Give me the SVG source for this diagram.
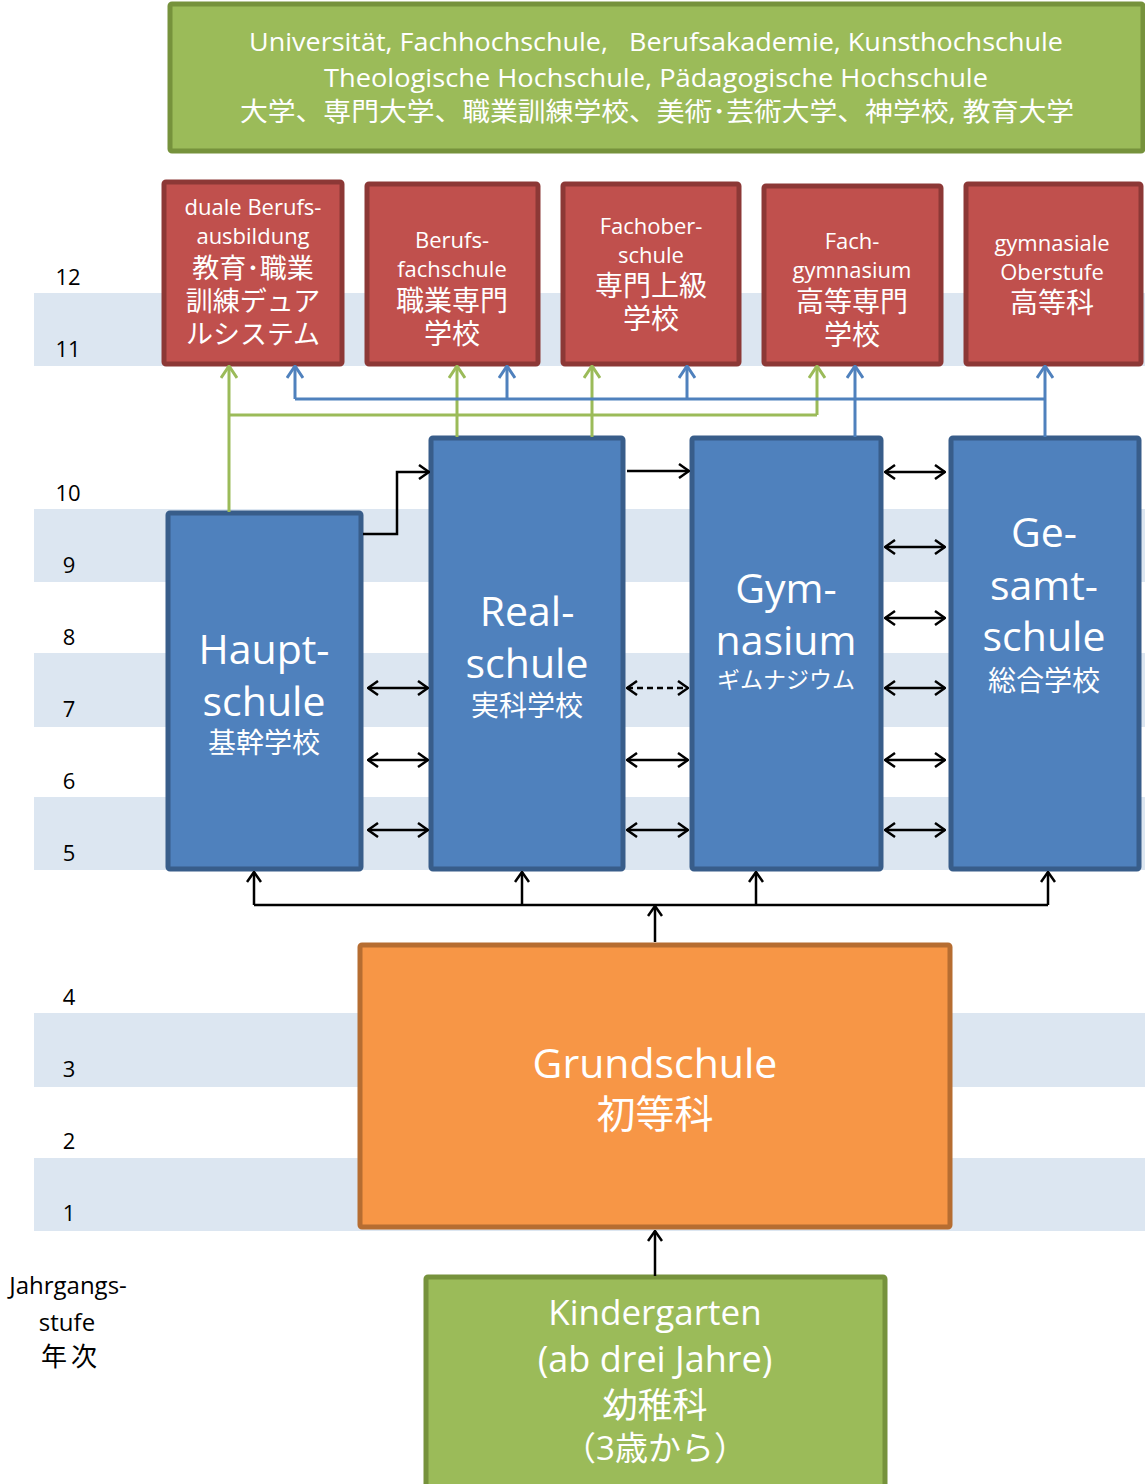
<svg xmlns="http://www.w3.org/2000/svg" width="1145" height="1484" viewBox="0 0 1145 1484">
<style>
.band{fill:#dce6f1}
.grn{fill:#9bbb59;stroke:#76923c;stroke-width:5}
.red{fill:#c0504d;stroke:#8c3836;stroke-width:5}
.blu{fill:#4f81bd;stroke:#385d8a;stroke-width:5}
.org{fill:#f79646;stroke:#b66d31;stroke-width:5}
text{font-family:"Open Sans","Noto Sans CJK JP",sans-serif;text-anchor:middle}
.w{fill:#fff}
.k{fill:#000}
.cl{fill:none;stroke:#000;stroke-width:2.5}
.gl{fill:none;stroke:#9bbb59;stroke-width:3}
.bl{fill:none;stroke:#4f81bd;stroke-width:3}
</style>
<defs>
<marker id="ak" viewBox="0 0 12 16" refX="11" refY="8" markerWidth="12" markerHeight="16" markerUnits="userSpaceOnUse" orient="auto-start-reverse"><path d="M1,1 L11,8 L1,15" fill="none" stroke="#000" stroke-width="2.5"/></marker>
<marker id="ag" viewBox="0 0 14 18" refX="13" refY="9" markerWidth="14" markerHeight="18" markerUnits="userSpaceOnUse" orient="auto"><path d="M1,1 L13,9 L1,17" fill="none" stroke="#9bbb59" stroke-width="3"/></marker>
<marker id="ab" viewBox="0 0 14 18" refX="13" refY="9" markerWidth="14" markerHeight="18" markerUnits="userSpaceOnUse" orient="auto"><path d="M1,1 L13,9 L1,17" fill="none" stroke="#4f81bd" stroke-width="3"/></marker>
</defs>
<g id="bands">
<rect class="band" x="34" y="293" width="1111" height="73"/>
<rect class="band" x="34" y="509" width="1111" height="73"/>
<rect class="band" x="34" y="653" width="1111" height="74"/>
<rect class="band" x="34" y="797" width="1111" height="73"/>
<rect class="band" x="34" y="1013" width="1111" height="74"/>
<rect class="band" x="34" y="1158" width="1111" height="73"/>
</g>
<g id="grades" font-size="22">
<text class="k" x="68" y="285">12</text>
<text class="k" x="68" y="357">11</text>
<text class="k" x="68" y="501">10</text>
<text class="k" x="69" y="573">9</text>
<text class="k" x="69" y="645">8</text>
<text class="k" x="69" y="717">7</text>
<text class="k" x="69" y="789">6</text>
<text class="k" x="69" y="861">5</text>
<text class="k" x="69" y="1005">4</text>
<text class="k" x="69" y="1077">3</text>
<text class="k" x="69" y="1149">2</text>
<text class="k" x="69" y="1221">1</text>
</g>
<g id="axis-label">
<text class="k" x="68" y="1294" font-size="24">Jahrgangs-</text>
<text class="k" x="67" y="1331" font-size="24">stufe</text>
<text class="k" x="71" y="1366" font-size="26" letter-spacing="4">年次</text>
</g>
<g id="hochschule">
<rect class="grn" x="170" y="4" width="973" height="147" rx="2"/>
<text class="w" x="656" y="51" font-size="25" textLength="814" lengthAdjust="spacingAndGlyphs">Universität, Fachhochschule,&#160;&#160; Berufsakademie, Kunsthochschule</text>
<text class="w" x="656" y="87" font-size="25" textLength="664" lengthAdjust="spacingAndGlyphs">Theologische Hochschule, Pädagogische Hochschule</text>
<text class="w" x="657" y="121" font-size="26" textLength="834" lengthAdjust="spacingAndGlyphs">大学、専門大学、職業訓練学校、美術･芸術大学、神学校, 教育大学</text>
</g>
<g id="duale">
<rect class="red" x="164" y="182" width="178" height="182" rx="2"/>
<text class="w" x="253" y="215" font-size="22">duale Berufs-</text>
<text class="w" x="253" y="244" font-size="22">ausbildung</text>
<text class="w" x="253" y="278" font-size="27">教育･職業</text>
<text class="w" x="253" y="311" font-size="27">訓練デュア</text>
<text class="w" x="253" y="344" font-size="27">ルシステム</text>
</g>
<g id="berufsfachschule">
<rect class="red" x="367" y="184" width="171" height="180" rx="2"/>
<text class="w" x="452" y="248" font-size="22">Berufs-</text>
<text class="w" x="452" y="277" font-size="22">fachschule</text>
<text class="w" x="452" y="311" font-size="28">職業専門</text>
<text class="w" x="452" y="344" font-size="28">学校</text>
</g>
<g id="fachoberschule">
<rect class="red" x="563" y="184" width="176" height="180" rx="2"/>
<text class="w" x="651" y="234" font-size="22">Fachober-</text>
<text class="w" x="651" y="263" font-size="22">schule</text>
<text class="w" x="651" y="296" font-size="28">専門上級</text>
<text class="w" x="651" y="329" font-size="28">学校</text>
</g>
<g id="fachgymnasium">
<rect class="red" x="764" y="186" width="177" height="178" rx="2"/>
<text class="w" x="852" y="249" font-size="22">Fach-</text>
<text class="w" x="852" y="278" font-size="22">gymnasium</text>
<text class="w" x="852" y="312" font-size="28">高等専門</text>
<text class="w" x="852" y="345" font-size="28">学校</text>
</g>
<g id="oberstufe">
<rect class="red" x="966" y="184" width="175" height="180" rx="2"/>
<text class="w" x="1052" y="251" font-size="22">gymnasiale</text>
<text class="w" x="1052" y="280" font-size="22">Oberstufe</text>
<text class="w" x="1052" y="313" font-size="28">高等科</text>
</g>
<g id="hauptschule">
<rect class="blu" x="168" y="513" width="193" height="356" rx="2"/>
<text class="w" x="264" y="664" font-size="41">Haupt-</text>
<text class="w" x="264" y="716" font-size="41">schule</text>
<text class="w" x="264" y="753" font-size="28">基幹学校</text>
</g>
<g id="realschule">
<rect class="blu" x="431" y="438" width="192" height="431" rx="2"/>
<text class="w" x="527" y="626" font-size="41">Real-</text>
<text class="w" x="527" y="678" font-size="41">schule</text>
<text class="w" x="527" y="716" font-size="28">実科学校</text>
</g>
<g id="gymnasium">
<rect class="blu" x="692" y="438" width="189" height="431" rx="2"/>
<text class="w" x="786" y="603" font-size="41">Gym-</text>
<text class="w" x="786" y="655" font-size="41">nasium</text>
<text class="w" x="786" y="688" font-size="23">ギムナジウム</text>
</g>
<g id="gesamtschule">
<rect class="blu" x="951" y="438" width="188" height="431" rx="2"/>
<text class="w" x="1044" y="547" font-size="41">Ge-</text>
<text class="w" x="1044" y="600" font-size="41">samt-</text>
<text class="w" x="1044" y="651" font-size="41">schule</text>
<text class="w" x="1044" y="691" font-size="28">総合学校</text>
</g>
<g id="grundschule">
<rect class="org" x="360" y="945" width="590" height="282" rx="2"/>
<text class="w" x="655" y="1078" font-size="41">Grundschule</text>
<text class="w" x="655" y="1128" font-size="39">初等科</text>
</g>
<g id="kindergarten">
<rect class="grn" x="426" y="1277" width="459" height="212" rx="2"/>
<text class="w" x="655" y="1325" font-size="35">Kindergarten</text>
<text class="w" x="655" y="1372" font-size="36">(ab drei Jahre)</text>
<text class="w" x="655" y="1418" font-size="35">幼稚科</text>
<text class="w" x="655" y="1460" font-size="33">（3歳から）</text>
</g>
<g id="connectors">
<path class="gl" d="M229,415 H817"/>
<path class="gl" d="M229,512 V366" marker-end="url(#ag)"/>
<path class="gl" d="M457,437 V366" marker-end="url(#ag)"/>
<path class="gl" d="M592,437 V366" marker-end="url(#ag)"/>
<path class="gl" d="M817,415 V366" marker-end="url(#ag)"/>
<path class="bl" d="M295,399 H1045"/>
<path class="bl" d="M295,399 V366" marker-end="url(#ab)"/>
<path class="bl" d="M507,399 V366" marker-end="url(#ab)"/>
<path class="bl" d="M687,399 V366" marker-end="url(#ab)"/>
<path class="bl" d="M855,437 V366" marker-end="url(#ab)"/>
<path class="bl" d="M1045,437 V366" marker-end="url(#ab)"/>
<path class="cl" d="M363,534 H397 V472 H429" marker-end="url(#ak)"/>
<path class="cl" d="M627,471 H689" marker-end="url(#ak)"/>
<path class="cl" d="M368,688 H428" marker-start="url(#ak)" marker-end="url(#ak)"/>
<path class="cl" d="M368,760 H428" marker-start="url(#ak)" marker-end="url(#ak)"/>
<path class="cl" d="M368,830 H428" marker-start="url(#ak)" marker-end="url(#ak)"/>
<path class="cl" d="M627,688 H688" stroke-dasharray="6,4" marker-start="url(#ak)" marker-end="url(#ak)"/>
<path class="cl" d="M627,760 H688" marker-start="url(#ak)" marker-end="url(#ak)"/>
<path class="cl" d="M627,830 H688" marker-start="url(#ak)" marker-end="url(#ak)"/>
<path class="cl" d="M885,472 H945" marker-start="url(#ak)" marker-end="url(#ak)"/>
<path class="cl" d="M885,547 H945" marker-start="url(#ak)" marker-end="url(#ak)"/>
<path class="cl" d="M885,618 H945" marker-start="url(#ak)" marker-end="url(#ak)"/>
<path class="cl" d="M885,688 H945" marker-start="url(#ak)" marker-end="url(#ak)"/>
<path class="cl" d="M885,760 H945" marker-start="url(#ak)" marker-end="url(#ak)"/>
<path class="cl" d="M885,830 H945" marker-start="url(#ak)" marker-end="url(#ak)"/>
<path class="cl" d="M254,905 H1048"/>
<path class="cl" d="M254,905 V872" marker-end="url(#ak)"/>
<path class="cl" d="M522,905 V872" marker-end="url(#ak)"/>
<path class="cl" d="M756,905 V872" marker-end="url(#ak)"/>
<path class="cl" d="M1048,905 V872" marker-end="url(#ak)"/>
<path class="cl" d="M655,942 V906" marker-end="url(#ak)"/>
<path class="cl" d="M655,1276 V1231" marker-end="url(#ak)"/>
</g>
</svg>
